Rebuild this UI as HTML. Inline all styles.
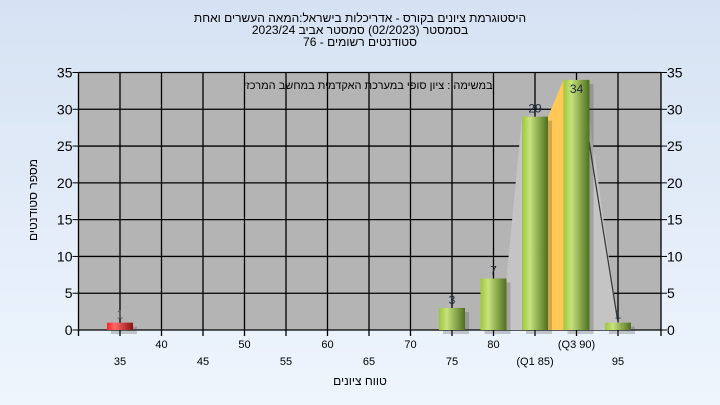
<!DOCTYPE html>
<html><head><meta charset="utf-8"><style>
body{margin:0;width:720px;height:405px;overflow:hidden;background:linear-gradient(#d6e2f3,#eef5fd);font-family:"Liberation Sans","Noto Sans CJK SC",sans-serif;}
svg{display:block}
text{font-family:"Liberation Sans","Noto Sans CJK SC",sans-serif;}
</style></head><body>
<svg id="c" width="720" height="405">
<defs>
<linearGradient id="gg" x1="0" x2="1"><stop offset="0" stop-color="#9cc73a"/><stop offset="0.3" stop-color="#c6e27e"/><stop offset="1" stop-color="#4e6e1c"/></linearGradient>
<linearGradient id="gr" x1="0" x2="1"><stop offset="0" stop-color="#ff2020"/><stop offset="0.3" stop-color="#ff6a6a"/><stop offset="1" stop-color="#8a1010"/></linearGradient>
</defs>
<g font-size="12" fill="#000" text-anchor="middle">
<text x="360" y="22" direction="rtl">היסטוגרמת ציונים בקורס - אדריכלות בישראל:המאה העשרים ואחת</text>
<text x="360" y="34" direction="rtl">בסמסטר  (02/2023)  סמסטר אביב 2023/24</text>
<text x="360" y="46" direction="rtl">סטודנטים רשומים - 76</text>
</g>
<rect x="78.5" y="72.5" width="582.5" height="257.5" fill="#b4b4b4"/>
<g id="grid"></g>
<g id="marks"></g>
<text x="368" y="89" font-size="11" text-anchor="middle" direction="rtl">במשימה : ציון סופי במערכת האקדמית במחשב המרכזי</text>
<text transform="translate(37,200) rotate(-90)" font-size="12" text-anchor="middle" direction="rtl">מספר סטודנטים</text>
<text x="360" y="385" font-size="12" text-anchor="middle" direction="rtl">טווח ציונים</text>
</svg>
<script>
const categories=["35","40","45","50","55","60","65","70","75","80","(Q1 85)","(Q3 90)","95"];
const values=[1,0,0,0,0,0,0,0,3,7,29,34,1];
const yTicks=[0,5,10,15,20,25,30,35];
const L=78.5,R=661,T=72.5,B=330,yMax=35,step=41.5;
const X=i=>120+i*step;
const Y=v=>B-(v/yMax)*(B-T);
const ns="http://www.w3.org/2000/svg";
function mk(tag,at,parent){const e=document.createElementNS(ns,tag);for(const k in at)e.setAttribute(k,at[k]);parent.appendChild(e);return e;}
const grid=document.getElementById('grid'),marks=document.getElementById('marks');
yTicks.forEach(t=>{
 const l=mk('line',{x1:L,x2:R,y1:Y(t),y2:Y(t),stroke:'#000','stroke-width':1.3},grid);
 
 
 [[L-6,'end',L-6,L],[R+6,'start',R,R+6]].forEach(([tx,an,a,b])=>{
  mk('line',{x1:a,x2:b,y1:Y(t),y2:Y(t),stroke:'#000'},grid);
  const s=mk('text',{x:tx,y:Y(t)+5,'font-size':14,'text-anchor':an},grid);s.textContent=t;
  
  
 });
});
categories.forEach((c,i)=>{
 const l=mk('line',{x1:X(i),x2:X(i),y1:T,y2:B+6,stroke:'#000','stroke-width':1.3},grid);
 
 
 const s=mk('text',{x:X(i),y:i%2?348:365,'font-size':11,'text-anchor':'middle'},grid);s.textContent=c;
 
 
});
mk('line',{x1:L,x2:L,y1:T,y2:B+6,stroke:'#000','stroke-width':1.3},grid);
mk('line',{x1:R,x2:R,y1:T,y2:B+6,stroke:'#000','stroke-width':1.3},grid);
const hw=13;
const a=mk('polygon',{points:`${X(9)+hw},${Y(values[9])} ${X(10)-hw},${Y(values[10])} ${X(10)-hw},${B} ${X(9)+hw},${B}`,fill:'#c4c4c4'},marks);


const o=mk('polygon',{points:`${X(10)+hw},${Y(values[10])} ${X(11)-hw},${Y(values[11])} ${X(11)-hw},${B} ${X(10)+hw},${B}`,fill:'#ffc857'},marks);


const g=mk('polygon',{points:`${X(11)+hw},${Y(values[11])+40} ${X(12)},${Y(values[12])} ${X(12)},${B} ${X(11)+hw},${B}`,fill:'#c4c4c4'},marks);


mk('line',{x1:X(11)+hw-4,y1:Y(values[11])+40,x2:X(12),y2:Y(values[12]),stroke:'#333','stroke-width':1.2},marks);
values.forEach((v,i)=>{
 if(v<=0)return;
 mk('rect',{x:X(i)-hw+4,y:Y(v)+4,width:hw*2,height:B-Y(v),fill:'rgba(60,60,60,0.25)'},marks);
 const r=mk('rect',{x:X(i)-hw,y:Y(v),width:hw*2,height:B-Y(v),fill:i==0?'url(#gr)':'url(#gg)'},marks);
 
 
 const ty=v>=33?Y(v)+13:Y(v)-4;
 const t=mk('text',{x:X(i),y:ty,'font-size':12,'text-anchor':'middle',fill:i==0?'#555':'#1a2a3a'},marks);t.textContent=v;
 
 
});
</script>
</body></html>
